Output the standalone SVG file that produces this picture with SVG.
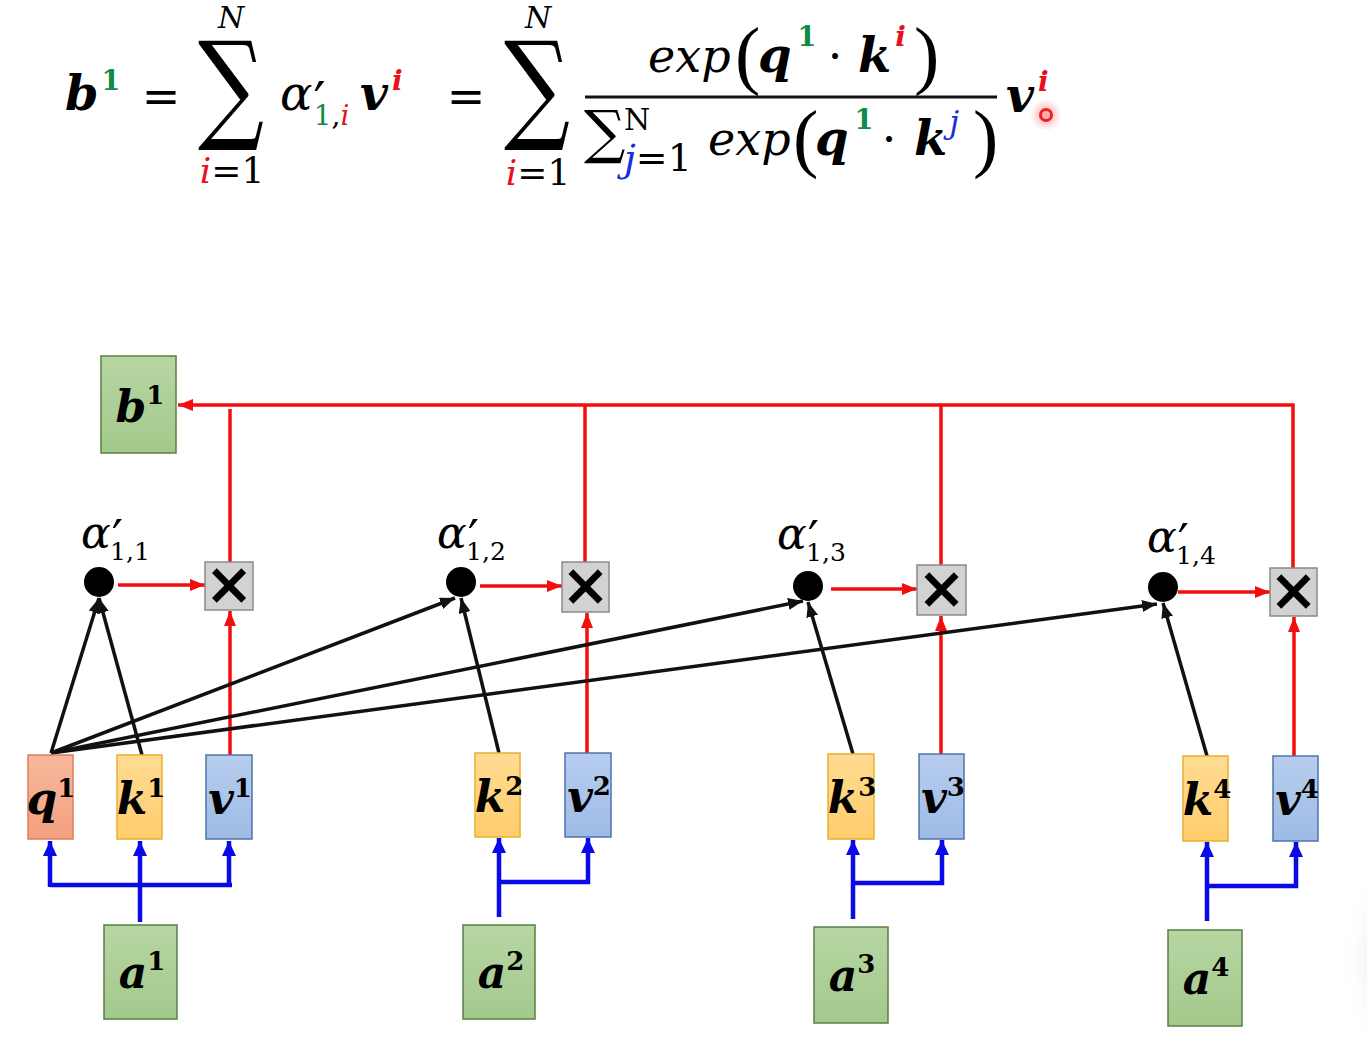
<svg xmlns="http://www.w3.org/2000/svg" width="1367" height="1039" viewBox="0 0 1367 1039">
<style>
.m{font-family:"DejaVu Serif","Liberation Serif",serif;font-style:italic;font-weight:normal}
.bv{font-family:"DejaVu Serif","Liberation Serif",serif;font-style:italic;font-weight:bold}
.up{font-family:"DejaVu Serif","Liberation Serif",serif;font-style:normal;font-weight:normal}
.par{font-family:"Liberation Serif","DejaVu Serif",serif;font-style:normal;font-weight:normal}
.sup{font-family:"DejaVu Serif","Liberation Serif",serif;font-weight:bold;font-style:normal}
.prm{font-family:"DejaVu Sans",sans-serif;font-style:normal;font-weight:normal}
.red{fill:#e8101a}.grn{fill:#0e8a4a}.blu{fill:#1a2ee0}
.node-q{fill:url(#gq);stroke:#d9805e;stroke-width:1.5}
.node-k{fill:url(#gk);stroke:#e8b030;stroke-width:1.5}
.node-v{fill:url(#gv);stroke:#4d74ab;stroke-width:1.5}
.node-g{fill:url(#gg);stroke:#5a7f45;stroke-width:1.5}
.node-x{fill:#d2d2d2;stroke:#8a8a8a;stroke-width:1.5}
.mulx{font-family:"DejaVu Sans",sans-serif;font-weight:bold;font-size:58px}
.rl{stroke:#f50d0d;stroke-width:3.5;fill:none}
.bl{stroke:#0a0ae8;stroke-width:4.5;fill:none}
.kl{stroke:#111;stroke-width:3.5;fill:none}
.lbl{font-size:44px}
</style>
<defs>
<linearGradient id="gq" x1="0" y1="0" x2="0" y2="1"><stop offset="0" stop-color="#f8b79c"/><stop offset="1" stop-color="#f3a07f"/></linearGradient>
<linearGradient id="gk" x1="0" y1="0" x2="0" y2="1"><stop offset="0" stop-color="#ffdb93"/><stop offset="1" stop-color="#ffcd6c"/></linearGradient>
<linearGradient id="gv" x1="0" y1="0" x2="0" y2="1"><stop offset="0" stop-color="#b7cdee"/><stop offset="1" stop-color="#9ebbe5"/></linearGradient>
<linearGradient id="gg" x1="0" y1="0" x2="0" y2="1"><stop offset="0" stop-color="#b6d6a2"/><stop offset="1" stop-color="#a3c98c"/></linearGradient>
<radialGradient id="glow"><stop offset="0" stop-color="#ff3030" stop-opacity="0.45"/><stop offset="1" stop-color="#ff3030" stop-opacity="0"/></radialGradient>
<radialGradient id="shade"><stop offset="0" stop-color="#d8d8d8" stop-opacity="0.9"/><stop offset="1" stop-color="#ffffff" stop-opacity="0"/></radialGradient>
<marker id="ar" markerUnits="userSpaceOnUse" markerWidth="15" markerHeight="12" refX="15" refY="6" orient="auto"><path d="M0,0 L15,6 L0,12 z" fill="#f50d0d"/></marker>
<marker id="ab" markerUnits="userSpaceOnUse" markerWidth="15" markerHeight="14" refX="15" refY="7" orient="auto"><path d="M0,0 L15,7 L0,14 z" fill="#0a0ae8"/></marker>
<marker id="ak" markerUnits="userSpaceOnUse" markerWidth="15" markerHeight="12" refX="15" refY="6" orient="auto"><path d="M0,0 L15,6 L0,12 z" fill="#111"/></marker>
</defs>
<rect width="1367" height="1039" fill="#ffffff"/>
<ellipse cx="1395" cy="960" rx="55" ry="110" fill="url(#shade)"/>

<!-- formula -->
<g id="formula">
<text x="65" y="110" class="bv" font-size="48">b<tspan class="sup grn" font-size="27" dx="3" dy="-20">1</tspan></text>
<text x="161" y="112" class="up" font-size="46" text-anchor="middle">=</text>
<text class="up"><tspan x="231" y="127" font-size="120" text-anchor="middle" textLength="66" lengthAdjust="spacingAndGlyphs">∑</tspan><tspan class="m" x="231" y="28" font-size="30" text-anchor="middle">N</tspan><tspan x="232" y="183" font-size="36" text-anchor="middle"><tspan class="m red">i</tspan>=1</tspan></text>
<text x="280" y="110" class="m" font-size="48">α<tspan class="prm" font-size="54" dx="1" dy="10">′</tspan><tspan class="up" font-size="28" dx="-12" dy="5"><tspan class="grn">1</tspan>,<tspan class="m red">i</tspan></tspan></text>
<text x="360" y="110" class="bv" font-size="48">v<tspan class="red" font-size="28" dx="4" dy="-20">i</tspan></text>
<text x="466" y="112" class="up" font-size="46" text-anchor="middle">=</text>
<text class="up"><tspan x="537" y="127" font-size="120" text-anchor="middle" textLength="66" lengthAdjust="spacingAndGlyphs">∑</tspan><tspan class="m" x="538" y="28" font-size="30" text-anchor="middle">N</tspan><tspan x="538" y="185" font-size="36" text-anchor="middle"><tspan class="m red">i</tspan>=1</tspan></text>

<text x="648" y="72" class="m" font-size="46">exp</text>
<text x="735" y="80" class="par" font-size="76">(</text>
<text x="758" y="72" class="bv" font-size="48">q<tspan class="sup grn" font-size="27" dx="6" dy="-26">1</tspan></text>
<text x="835" y="72" class="up" font-size="46" text-anchor="middle">·</text>
<text x="858" y="72" class="bv" font-size="48">k<tspan class="red" font-size="28" dx="4" dy="-26">i</tspan></text>
<text x="914" y="80" class="par" font-size="76">)</text>

<line x1="585" y1="97" x2="997" y2="97" stroke="#111" stroke-width="3"/>

<text class="up"><tspan x="584" y="152" font-size="58">∑</tspan><tspan x="624" y="130" font-size="30">N</tspan><tspan x="624" y="171" font-size="38"><tspan class="m blu">j</tspan>=1</tspan></text>
<text x="708" y="155" class="m" font-size="46">exp</text>
<text x="793" y="163" class="par" font-size="76">(</text>
<text x="815" y="155" class="bv" font-size="48">q<tspan class="sup grn" font-size="27" dx="6" dy="-26">1</tspan></text>
<text x="889" y="155" class="up" font-size="46" text-anchor="middle">·</text>
<text x="914" y="155" class="bv" font-size="48">k<tspan class="m blu" font-size="32" dx="2" dy="-22">j</tspan></text>
<text x="973" y="163" class="par" font-size="76">)</text>

<text x="1006" y="112" class="bv" font-size="48">v<tspan class="red" font-size="28" dx="4" dy="-21">i</tspan></text>
<circle cx="1046" cy="115" r="16" fill="url(#glow)"/>
<circle cx="1046" cy="115" r="5.5" fill="none" stroke="#ee2222" stroke-width="3"/>
</g>

<!-- connectors -->
<g id="connectors">
<path class="rl" d="M1293,568 V405 H178" marker-end="url(#ar)"/>
<line class="rl" x1="230" y1="562" x2="230" y2="409"/>
<line class="rl" x1="585" y1="562" x2="585" y2="405"/>
<line class="rl" x1="941" y1="565" x2="941" y2="405"/>
<line class="rl" x1="118" y1="585" x2="205" y2="585" marker-end="url(#ar)"/>
<line class="rl" x1="480" y1="586" x2="562" y2="586" marker-end="url(#ar)"/>
<line class="rl" x1="831" y1="589" x2="917" y2="589" marker-end="url(#ar)"/>
<line class="rl" x1="1178" y1="592" x2="1270" y2="592" marker-end="url(#ar)"/>
<line class="rl" x1="230" y1="755" x2="230" y2="611" marker-end="url(#ar)"/>
<line class="rl" x1="587" y1="753" x2="587" y2="613" marker-end="url(#ar)"/>
<line class="rl" x1="941" y1="754" x2="941" y2="616" marker-end="url(#ar)"/>
<line class="rl" x1="1294" y1="756" x2="1294" y2="617" marker-end="url(#ar)"/>
<line class="kl" x1="51" y1="753" x2="99" y2="598" marker-end="url(#ak)"/>
<line class="kl" x1="142" y1="755" x2="99" y2="598" marker-end="url(#ak)"/>
<line class="kl" x1="51" y1="753" x2="455" y2="598" marker-end="url(#ak)"/>
<line class="kl" x1="499" y1="753" x2="461" y2="598" marker-end="url(#ak)"/>
<line class="kl" x1="51" y1="753" x2="803" y2="601" marker-end="url(#ak)"/>
<line class="kl" x1="853" y1="754" x2="808" y2="602" marker-end="url(#ak)"/>
<line class="kl" x1="51" y1="753" x2="1157" y2="604" marker-end="url(#ak)"/>
<line class="kl" x1="1207" y1="756" x2="1163" y2="603" marker-end="url(#ak)"/>
<line class="bl" x1="140" y1="922" x2="140" y2="841" marker-end="url(#ab)"/>
<polyline class="bl" points="50,885 232,885"/>
<line class="bl" x1="50" y1="887" x2="50" y2="841" marker-end="url(#ab)"/>
<line class="bl" x1="229" y1="887" x2="229" y2="841" marker-end="url(#ab)"/>
<line class="bl" x1="499" y1="917" x2="499" y2="838" marker-end="url(#ab)"/>
<path class="bl" d="M499,882 H588 V838" marker-end="url(#ab)"/>
<line class="bl" x1="853" y1="919" x2="853" y2="840" marker-end="url(#ab)"/>
<path class="bl" d="M853,883 H942 V840" marker-end="url(#ab)"/>
<line class="bl" x1="1207" y1="921" x2="1207" y2="842" marker-end="url(#ab)"/>
<path class="bl" d="M1207,886 H1296 V842" marker-end="url(#ab)"/>
</g>

<!-- nodes -->
<g id="b1"><rect class="node-g" x="101" y="356" width="75" height="97"/><text x="140" y="422" text-anchor="middle" class="bv lbl">b<tspan class="sup" font-size="26" dy="-18">1</tspan></text></g>

<g id="alpha11"><circle cx="99" cy="582" r="15" fill="#000"/><text x="81" y="548" class="m" font-size="44">α<tspan class="prm" font-size="50" dx="1" dy="7">′</tspan><tspan class="up" font-size="25" dx="-13" dy="5">1,1</tspan></text></g>
<g id="alpha12"><circle cx="461" cy="582" r="15" fill="#000"/><text x="437" y="548" class="m" font-size="44">α<tspan class="prm" font-size="50" dx="1" dy="7">′</tspan><tspan class="up" font-size="25" dx="-13" dy="5">1,2</tspan></text></g>
<g id="alpha13"><circle cx="808" cy="586" r="15" fill="#000"/><text x="777" y="549" class="m" font-size="44">α<tspan class="prm" font-size="50" dx="1" dy="7">′</tspan><tspan class="up" font-size="25" dx="-13" dy="5">1,3</tspan></text></g>
<g id="alpha14"><circle cx="1163" cy="587" r="15" fill="#000"/><text x="1147" y="552" class="m" font-size="44">α<tspan class="prm" font-size="50" dx="1" dy="7">′</tspan><tspan class="up" font-size="25" dx="-13" dy="5">1,4</tspan></text></g>

<g id="mul1"><rect class="node-x" x="205" y="562" width="48" height="48"/><text x="229" y="604" text-anchor="middle" class="mulx">×</text></g>
<g id="mul2"><rect class="node-x" x="562" y="562" width="47" height="50"/><text x="585.5" y="605" text-anchor="middle" class="mulx">×</text></g>
<g id="mul3"><rect class="node-x" x="917" y="565" width="49" height="50"/><text x="941.5" y="608" text-anchor="middle" class="mulx">×</text></g>
<g id="mul4"><rect class="node-x" x="1270" y="568" width="47" height="48"/><text x="1293.5" y="610" text-anchor="middle" class="mulx">×</text></g>

<g id="q1"><rect class="node-q" x="28" y="755" width="45" height="84"/><text x="51" y="814" text-anchor="middle" class="bv lbl">q<tspan class="sup" font-size="26" dy="-17">1</tspan></text></g>
<g id="k1"><rect class="node-k" x="117" y="755" width="45" height="84"/><text x="141" y="814" text-anchor="middle" class="bv lbl">k<tspan class="sup" font-size="26" dy="-17">1</tspan></text></g>
<g id="v1"><rect class="node-v" x="206" y="755" width="46" height="84"/><text x="230" y="814" text-anchor="middle" class="bv lbl">v<tspan class="sup" font-size="26" dy="-17">1</tspan></text></g>
<g id="k2"><rect class="node-k" x="475" y="753" width="45" height="84"/><text x="499" y="812" text-anchor="middle" class="bv lbl">k<tspan class="sup" font-size="26" dy="-17">2</tspan></text></g>
<g id="v2"><rect class="node-v" x="565" y="753" width="46" height="84"/><text x="589" y="812" text-anchor="middle" class="bv lbl">v<tspan class="sup" font-size="26" dy="-17">2</tspan></text></g>
<g id="k3"><rect class="node-k" x="828" y="754" width="46" height="85"/><text x="852" y="813" text-anchor="middle" class="bv lbl">k<tspan class="sup" font-size="26" dy="-17">3</tspan></text></g>
<g id="v3"><rect class="node-v" x="919" y="754" width="45" height="85"/><text x="943" y="813" text-anchor="middle" class="bv lbl">v<tspan class="sup" font-size="26" dy="-17">3</tspan></text></g>
<g id="k4"><rect class="node-k" x="1183" y="756" width="45" height="85"/><text x="1207" y="815" text-anchor="middle" class="bv lbl">k<tspan class="sup" font-size="26" dy="-17">4</tspan></text></g>
<g id="v4"><rect class="node-v" x="1273" y="756" width="45" height="85"/><text x="1297" y="815" text-anchor="middle" class="bv lbl">v<tspan class="sup" font-size="26" dy="-17">4</tspan></text></g>

<g id="a1"><rect class="node-g" x="104" y="925" width="73" height="94"/><text x="142" y="988" text-anchor="middle" class="bv lbl">a<tspan class="sup" font-size="26" dy="-18">1</tspan></text></g>
<g id="a2"><rect class="node-g" x="463" y="925" width="72" height="94"/><text x="501" y="988" text-anchor="middle" class="bv lbl">a<tspan class="sup" font-size="26" dy="-18">2</tspan></text></g>
<g id="a3"><rect class="node-g" x="814" y="927" width="74" height="96"/><text x="852" y="991" text-anchor="middle" class="bv lbl">a<tspan class="sup" font-size="26" dy="-18">3</tspan></text></g>
<g id="a4"><rect class="node-g" x="1168" y="930" width="74" height="96"/><text x="1206" y="994" text-anchor="middle" class="bv lbl">a<tspan class="sup" font-size="26" dy="-18">4</tspan></text></g>
</svg>
